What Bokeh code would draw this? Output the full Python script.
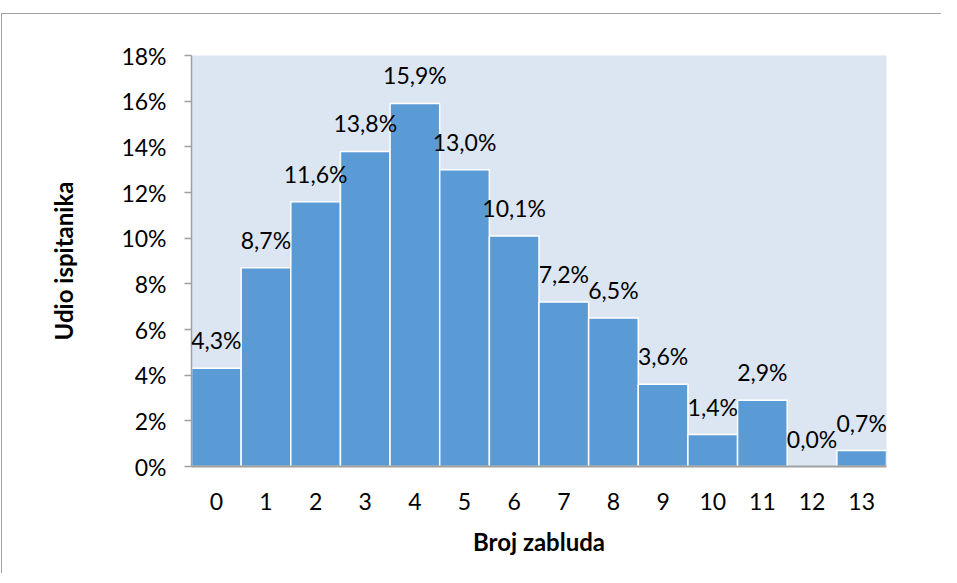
from bokeh.plotting import figure
from bokeh.models import ColumnDataSource, FactorRange, Range1d, NumeralTickFormatter, FixedTicker, LabelSet
from bokeh.core.properties import value
from bokeh.embed import file_html
from bokeh.resources import INLINE

# Data
categories = ["0", "1", "2", "3", "4", "5", "6", "7", "8", "9", "10", "11", "12", "13"]
shares = [4.3, 8.7, 11.6, 13.8, 15.9, 13.0, 10.1, 7.2, 6.5, 3.6, 1.4, 2.9, 0.0, 0.7]
y_ticks = [0, 0.02, 0.04, 0.06, 0.08, 0.10, 0.12, 0.14, 0.16, 0.18]

x_title = "Broj zabluda"
y_title = "Udio ispitanika"

FONT = "Lato"

src = ColumnDataSource(dict(
    cat=categories,
    val=[v / 100 for v in shares],
    lab=[(f"{v:.1f}%").replace(".", ",") for v in shares],
))

p = figure(
    x_range=FactorRange(*categories),
    y_range=Range1d(0, 0.18),
    width=940, height=560,
    output_backend="svg", toolbar_location=None,
    min_border_left=189, min_border_right=56,
    min_border_top=41, min_border_bottom=108,
)
p.margin = (13, 0, 0, 1)
p.styles = {"border-top": "1px solid #a0a0a0", "border-left": "1px solid #a0a0a0"}

p.background_fill_color = "#DCE6F2"
p.border_fill_color = "white"
p.outline_line_color = None
p.xgrid.grid_line_color = None
p.ygrid.grid_line_color = None

p.vbar(x="cat", top="val", width=1.0, source=src,
       fill_color="#5B9BD5", line_color="white", line_width=1.5)

labels = LabelSet(x="cat", y="val", text="lab", source=src,
                  text_align="center", text_baseline="middle", y_offset=28,
                  text_font=value(FONT), text_font_size=value("23px"),
                  text_color="black")
p.add_layout(labels)

# Y axis
p.yaxis.ticker = FixedTicker(ticks=y_ticks)
p.yaxis.formatter = NumeralTickFormatter(format="0%")
p.yaxis.axis_line_color = "#a0a0a0"
p.yaxis.axis_line_width = 1.5
p.yaxis.major_tick_line_color = "#a0a0a0"
p.yaxis.major_tick_line_width = 1.5
p.yaxis.major_tick_out = 7
p.yaxis.major_tick_in = 0
p.yaxis.minor_tick_line_color = None
p.yaxis.major_label_standoff = 18
p.yaxis.axis_label = y_title
p.yaxis.axis_label_standoff = 40

# X axis
p.xaxis.axis_line_color = "#a0a0a0"
p.xaxis.axis_line_width = 2
p.xaxis.major_tick_line_color = None
p.xaxis.major_tick_out = 0
p.xaxis.major_tick_in = 0
p.xaxis.major_label_standoff = 26
p.xaxis.axis_label = x_title
p.xaxis.axis_label_standoff = 14

for ax in (p.xaxis, p.yaxis):
    ax.major_label_text_font = FONT
    ax.major_label_text_font_size = "23px"
    ax.major_label_text_color = "black"
    ax.axis_label_text_font = FONT
    ax.axis_label_text_font_size = "24px"
    ax.axis_label_text_font_style = "bold"
    ax.axis_label_text_color = "black"

open("out.html", "w").write(file_html(p, INLINE))
